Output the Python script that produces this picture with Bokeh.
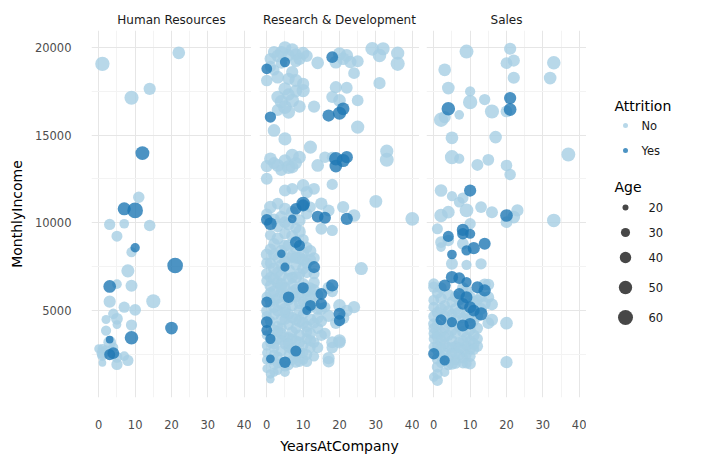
import math

from bokeh.core.properties import value
from bokeh.embed import file_html
from bokeh.layouts import column, row
from bokeh.models import ColumnDataSource, FixedTicker, Range1d, Spacer
from bokeh.plotting import figure
from bokeh.resources import INLINE

# Points: (YearsAtCompany, MonthlyIncome, Age)
hr_no = [
    (1, 19050, 48), (22, 19680, 40), (14, 17630, 38), (9, 17120, 47), (11, 11460, 35),
    (3, 9910, 34), (7, 9950, 28), (14, 9850, 35), (5, 9240, 33), (9, 8330, 30),
    (8, 7270, 42), (5, 6510, 28), (9, 6420, 37), (3, 5520, 38), (7, 5200, 34),
    (10, 5050, 36), (15, 5540, 47), (4, 4820, 31), (2, 4500, 26), (5, 4540, 36),
    (5, 4210, 25), (9, 4180, 34), (2, 3870, 30), (3, 3210, 40), (1, 2830, 28),
    (1, 2580, 36), (7, 2410, 28), (8, 2170, 34), (5, 1940, 34), (1, 2030, 22),
    (5, 2350, 33), (2, 2740, 30), (0, 2830, 26), (1, 2450, 31), (4, 2900, 29),
]
hr_yes = [
    (12, 13970, 46), (7, 10800, 42), (10, 10710, 55), (10, 8580, 27), (21, 7570, 55),
    (3, 6380, 40), (20, 4010, 40), (9, 3460, 44), (3, 3360, 22), (4, 2580, 36),
    (3, 2500, 33),
]
rd_no = [
    (5, 19980, 40), (2, 19720, 38), (7, 19850, 42), (10, 19660, 40), (6, 19530, 37),
    (9, 19340, 39), (1, 19340, 36), (0, 18100, 35), (3, 18290, 40), (7, 18580, 38),
    (8, 18100, 41), (14, 19110, 40), (20, 19620, 42), (22, 19530, 40), (19, 19150, 41),
    (23, 19150, 39), (25, 19200, 37), (24, 18520, 36), (29, 19910, 45), (32, 19910, 42),
    (31, 19530, 44), (36, 19660, 43), (36, 19050, 47), (31, 17950, 38), (21, 19340, 40),
    (19, 17720, 38), (22, 17690, 36), (20, 16970, 40), (18, 17160, 37), (25, 16970, 36),
    (5, 17630, 42), (3, 17160, 40), (7, 16970, 44), (9, 16620, 39), (10, 17530, 43),
    (10, 17910, 38), (5, 16590, 45), (13, 16620, 38), (3, 16430, 37), (2, 15260, 40),
    (5, 14780, 42), (25, 15450, 43), (4, 19100, 35), (8, 19600, 37), (2, 18700, 33),
    (6, 17300, 39), (1, 18900, 34), (4, 19700, 41), (8, 19200, 36), (6, 18200, 38),
    (4, 16900, 43), (8, 17500, 40), (6, 16300, 41), (11, 19500, 37), (3, 19500, 39),
    (12, 14310, 42), (1, 13650, 40), (0, 13230, 38), (3, 13270, 41), (5, 13550, 39),
    (7, 13840, 43), (9, 13740, 40), (6, 13170, 45), (7, 13170, 39), (0, 12510, 36),
    (14, 13270, 40), (16, 13740, 35), (18, 13740, 33), (33, 14080, 42), (33, 13590, 46),
    (18, 12190, 34), (5, 11840, 37), (7, 11940, 35), (10, 12130, 40), (13, 11940, 36),
    (11, 11750, 38), (30, 11220, 41), (2, 13400, 37), (4, 13000, 36), (8, 13400, 38),
    (1, 10900, 40), (3, 11090, 36), (5, 10800, 38), (15, 11090, 39), (17, 10710, 37),
    (21, 10900, 38), (24, 10420, 40), (40, 10230, 45), (15, 9660, 36), (18, 9570, 34),
    (4, 10330, 39), (5, 10040, 37), (9, 10140, 38), (11, 10520, 35), (0, 10500, 34),
    (2, 10200, 36), (7, 10600, 40), (12, 10900, 33), (3, 9800, 35), (6, 9900, 37),
    (8, 9700, 33),
    (1, 9300, 33), (3, 9100, 38), (5, 9400, 35), (7, 9250, 37), (9, 9500, 40),
    (10, 9050, 34), (2, 8800, 36), (6, 8700, 39), (8, 8500, 35), (4, 8400, 38),
    (11, 8600, 34), (0, 8200, 37), (3, 8000, 33), (7, 8100, 36), (9, 8000, 39),
    (12, 7900, 35), (1, 7700, 34), (2, 7400, 38), (5, 7800, 36), (6, 7300, 40),
    (8, 7600, 33), (10, 7400, 37), (0, 7100, 35), (4, 7000, 39), (7, 6900, 34),
    (9, 7100, 36), (11, 7200, 38), (13, 7100, 33), (26, 7400, 42), (1, 8500, 35),
    (5, 8700, 37), (10, 8300, 36), (3, 7200, 34), (8, 6900, 38),
    (0, 7700, 34), (2, 8200, 36), (4, 7600, 35), (6, 8000, 37), (8, 8000, 34),
    (10, 7900, 36), (11, 7700, 35), (12, 8400, 37), (1, 6900, 33), (13, 8000, 35),
    (0, 6700, 33), (1, 6400, 36), (3, 6600, 38), (5, 6300, 34), (6, 6800, 37),
    (8, 6200, 35), (10, 6500, 39), (12, 6300, 33), (2, 6100, 36), (4, 6000, 34),
    (7, 6050, 38), (9, 6000, 35), (11, 6100, 37), (13, 6200, 34), (14, 5900, 36),
    (17, 6300, 38), (18, 6100, 35), (2, 6800, 35), (4, 6500, 37), (7, 6500, 33),
    (0, 5800, 31), (1, 5500, 34), (2, 5200, 36), (3, 5700, 33), (4, 5400, 35),
    (5, 5100, 38), (6, 5600, 32), (7, 5300, 36), (8, 5800, 34), (9, 5000, 37),
    (10, 5500, 33), (11, 5200, 35), (12, 5700, 38), (13, 5400, 34), (14, 5100, 36),
    (16, 5200, 33), (20, 5300, 40), (22, 5000, 37), (24, 5200, 38), (5, 5800, 35),
    (0, 5000, 34), (1, 6000, 36), (2, 5600, 33), (3, 5000, 35), (4, 6300, 37),
    (6, 4800, 34), (7, 5800, 36), (9, 5400, 33), (11, 5800, 34), (12, 5200, 36),
    (13, 6600, 35), (15, 5100, 37),
    (0, 4700, 30), (1, 4400, 33), (2, 4800, 35), (3, 4100, 32), (4, 4500, 36),
    (5, 4900, 34), (6, 4200, 31), (7, 4600, 35), (8, 4000, 33), (9, 4400, 37),
    (10, 4800, 32), (11, 4100, 34), (12, 4500, 36), (13, 4300, 33), (15, 4400, 35),
    (17, 4700, 38), (19, 4300, 36), (14, 4000, 34), (21, 4600, 39), (4, 4000, 33),
    (5, 4500, 32), (8, 4500, 35), (10, 4300, 37), (14, 4600, 36),
    (0, 3600, 29), (1, 3200, 32), (2, 3900, 34), (3, 3400, 31), (4, 3700, 35),
    (5, 3100, 33), (6, 3500, 30), (7, 3800, 34), (8, 3300, 32), (9, 3600, 36),
    (10, 3000, 31), (11, 3400, 33), (12, 3700, 35), (13, 3200, 32), (18, 3200, 37),
    (20, 3300, 40), (15, 3600, 34), (2, 3100, 30), (6, 2900, 31),
    (1, 3600, 31), (3, 3800, 33), (5, 3500, 30), (7, 3400, 32), (9, 3200, 34),
    (11, 3800, 33), (0, 3000, 29), (4, 3300, 31), (6, 3100, 33), (12, 3300, 34),
    (16, 3700, 35), (14, 2900, 34),
    (0, 2600, 27), (1, 2200, 30), (2, 2900, 32), (3, 2400, 29), (4, 2700, 33),
    (5, 2100, 31), (6, 2500, 28), (7, 2800, 34), (8, 2300, 30), (9, 2600, 32),
    (10, 2200, 29), (11, 2500, 33), (12, 2900, 31), (13, 2400, 30), (17, 2100, 36),
    (17, 2300, 38), (18, 2900, 35), (20, 3200, 38), (2, 2500, 30), (8, 2700, 32),
    (10, 2600, 30), (0, 2200, 28), (3, 2000, 29), (7, 2200, 30), (9, 2100, 31),
    (11, 2100, 32),
    (0, 1700, 25), (1, 1400, 27), (1, 1100, 24), (2, 1900, 28), (3, 1600, 26),
    (4, 2000, 29), (6, 1900, 30), (8, 2050, 31), (5, 1800, 27), (2, 1500, 26),
    (5, 1500, 28),
]
rd_yes = [
    (5, 19150, 30), (0, 18770, 32), (18, 19430, 36), (21, 16490, 40), (20, 16240, 42),
    (17, 16110, 38), (1, 16020, 34), (19, 13650, 44), (22, 13740, 38), (19, 13230, 40),
    (21, 13550, 42), (8, 10800, 35), (10, 11090, 45), (10, 10990, 38), (14, 10360, 36),
    (16, 10290, 37), (22, 10230, 38), (0, 10170, 35), (1, 9950, 40), (7, 10230, 25),
    (8, 8900, 36), (9, 8710, 33), (13, 7480, 37), (5, 7480, 26), (6, 5770, 35),
    (10, 6300, 34), (18, 6440, 38), (15, 5960, 36), (15, 5390, 34), (20, 4820, 37),
    (20, 4440, 34), (0, 5490, 33), (0, 4350, 36), (0, 3880, 32), (1, 3400, 30),
    (8, 2700, 33), (5, 2070, 35), (1, 2260, 25), (12, 5300, 33), (11, 5010, 26),
    (4, 8240, 24),
]
sales_no = [
    (9, 19750, 46), (21, 19910, 38), (20, 19090, 36), (22, 19240, 38), (33, 19110, 44),
    (3, 18710, 40), (22, 18260, 38), (32, 18240, 40), (4, 17670, 40), (10, 17480, 30),
    (14, 17020, 34), (10, 16870, 48), (7, 16150, 28), (16, 16340, 47), (20, 16340, 36),
    (2, 15870, 48), (3, 16020, 38), (5, 14840, 40), (17, 14880, 40), (5, 13740, 47),
    (7, 13650, 30), (12, 13300, 37), (15, 13590, 36), (20, 13270, 35), (21, 12750, 35),
    (37, 13890, 46), (2, 11840, 40), (5, 11520, 30), (7, 11180, 32), (8, 11410, 34),
    (9, 10710, 45), (13, 10900, 36), (16, 10610, 37), (2, 10420, 44), (4, 10610, 40),
    (22, 10330, 40), (23, 10710, 38), (20, 10040, 36), (33, 10140, 44), (10, 9950, 34),
    (1, 9660, 33), (2, 8900, 36), (2, 8620, 28), (4, 9000, 35), (8, 8810, 36),
    (5, 7670, 37), (9, 7610, 30), (13, 7670, 34), (14, 6490, 37), (15, 6490, 36),
    (0, 6530, 33), (0, 6340, 34), (15, 5770, 36), (16, 5360, 37), (16, 4480, 38),
    (15, 4290, 36), (20, 4290, 40), (0, 4670, 33), (0, 4250, 34), (1, 3690, 33),
    (0, 2930, 31), (1, 2260, 35), (1, 1790, 34), (0, 1220, 28), (1, 1030, 33),
    (5, 1980, 38), (10, 1980, 35), (20, 2070, 38), (12, 2970, 34), (10, 2830, 36),
    (1, 6000, 33), (2, 5700, 35), (3, 5300, 32), (4, 5900, 36), (5, 5500, 34),
    (6, 5100, 37), (7, 5600, 33), (8, 6300, 35), (9, 6100, 38), (10, 5800, 34),
    (11, 5500, 36), (12, 5600, 33), (13, 5800, 35), (14, 5400, 37), (0, 5200, 32),
    (1, 4900, 34), (2, 5100, 36), (3, 4700, 33), (4, 4300, 35), (5, 4800, 32),
    (6, 4500, 34), (7, 4900, 37), (8, 4600, 33), (9, 4800, 36), (10, 4600, 34),
    (11, 4400, 32), (12, 4700, 35), (0, 4000, 31), (1, 4200, 33), (2, 3800, 35),
    (3, 4000, 32), (4, 3600, 34), (5, 3900, 36), (6, 3700, 31), (7, 4100, 33),
    (8, 3800, 35), (9, 3500, 32), (10, 3900, 34), (11, 3600, 36), (12, 3400, 33),
    (0, 3400, 30), (1, 3000, 32), (2, 3300, 34), (3, 3100, 31), (4, 2900, 33),
    (5, 3300, 35), (6, 3000, 30), (7, 3200, 32), (8, 2800, 34), (9, 3000, 31),
    (10, 3300, 33), (11, 3100, 35), (1, 2700, 30), (2, 2400, 32), (3, 2600, 29),
    (4, 2300, 33), (5, 2600, 31), (6, 2200, 30), (7, 2500, 34), (8, 2300, 32),
    (9, 2500, 30), (10, 2400, 33), (2, 2000, 28), (4, 1900, 30), (6, 2000, 32),
    (8, 2000, 29), (3, 1500, 27),
    (0, 3700, 31), (1, 3500, 33), (2, 2900, 30), (3, 3500, 32), (5, 2900, 31),
    (6, 2600, 33), (7, 2900, 32), (8, 3300, 31), (9, 2000, 30), (11, 2800, 33),
    (0, 5600, 32), (2, 6300, 34), (4, 5000, 33), (6, 5800, 35), (12, 4000, 34),
    (13, 5100, 36), (1, 1400, 30),
]
sales_yes = [
    (21, 17100, 38), (21, 16450, 40), (4, 16490, 44), (10, 11840, 38), (20, 10420, 40),
    (8, 9600, 38), (8, 9380, 35), (10, 9380, 30), (4, 9230, 33), (11, 8560, 38),
    (14, 8810, 37), (9, 8430, 30), (5, 8200, 28), (5, 6910, 38), (7, 6850, 36),
    (9, 6630, 30), (12, 6340, 37), (14, 6150, 38), (3, 6440, 37), (9, 5770, 37),
    (7, 5960, 35), (8, 5390, 36), (10, 5200, 37), (13, 4820, 42), (11, 5010, 36),
    (8, 4160, 37), (10, 4260, 35), (2, 4480, 33), (5, 4350, 30), (0, 2550, 34),
    (3, 2170, 30),
]

departments = ["Human Resources", "Research & Development", "Sales"]
attrition_levels = ["No", "Yes"]
legend_ages = [20, 30, 40, 50, 60]

x_ticks = [0, 10, 20, 30, 40]
x_minor = [5, 15, 25, 35]
y_ticks = [5000, 10000, 15000, 20000]
y_minor = [2500, 7500, 12500, 17500]

COLOURS = {"No": "#a6cee3", "Yes": "#1f78b4"}
FONT = "DejaVu Sans"
FRAME_W, FRAME_H = 160, 367
FRAME_TOP = 30  # page pixel where the panel frames start


def point_size(age):
    # marker area grows linearly with age
    return math.sqrt(49 + 5.6 * (age - 20))


def key_size(age):
    return math.sqrt(36 + 4.73 * (age - 20))


def make_panel(title, groups, border_left, first=False, x_title=None):
    p = figure(frame_width=FRAME_W, frame_height=FRAME_H, title=title,
               x_range=Range1d(-2, 42), y_range=Range1d(59, 20949),
               toolbar_location=None, output_backend="svg",
               min_border_left=border_left, min_border_right=0,
               min_border_top=0, min_border_bottom=0)
    p.outline_line_color = None
    p.title.align = "center"
    p.title.text_font = FONT
    p.title.text_font_size = "12px"
    p.title.text_font_style = "normal"
    p.title.text_color = "#1a1a1a"
    p.title.standoff = 8

    p.xaxis.ticker = FixedTicker(ticks=x_ticks, minor_ticks=x_minor)
    p.yaxis.ticker = FixedTicker(ticks=y_ticks, minor_ticks=y_minor)
    p.xgrid.ticker = FixedTicker(ticks=x_ticks, minor_ticks=x_minor)
    p.ygrid.ticker = FixedTicker(ticks=y_ticks, minor_ticks=y_minor)
    p.grid.grid_line_color = "#e6e6e6"
    p.grid.minor_grid_line_color = "#f3f3f3"

    for ax in (p.xaxis, p.yaxis):
        ax.axis_line_color = None
        ax.major_tick_line_color = None
        ax.minor_tick_line_color = None
        ax.major_tick_out = 0
        ax.major_tick_in = 0
        ax.minor_tick_out = 0
        ax.minor_tick_in = 0
        ax.major_label_text_font = FONT
        ax.major_label_text_font_size = "11.5px"
        ax.major_label_text_color = "#4d4d4d"
        ax.axis_label_text_font = FONT
        ax.axis_label_text_font_size = "14px"
        ax.axis_label_text_font_style = "normal"
        ax.axis_label_text_color = "black"
    p.xaxis.major_label_standoff = 22
    p.yaxis.major_label_standoff = 20

    if first:
        p.yaxis.axis_label = "MonthlyIncome"
        p.yaxis.axis_label_standoff = 7
    else:
        p.yaxis.visible = False
    if x_title:
        p.xaxis.axis_label = x_title
        p.xaxis.axis_label_standoff = 6

    for level, points in zip(attrition_levels, groups):
        src = ColumnDataSource(dict(
            years=[pt[0] for pt in points],
            income=[pt[1] for pt in points],
            size=[point_size(pt[2]) for pt in points],
        ))
        p.scatter("years", "income", size="size", source=src,
                  fill_color=COLOURS[level], fill_alpha=0.8, line_color=None)
    return p


p_hr = make_panel(departments[0], [hr_no, hr_yes], 82, first=True)
p_rd = make_panel(departments[1], [rd_no, rd_yes], 8, x_title="YearsAtCompany")
p_sales = make_panel(departments[2], [sales_no, sales_yes], 7)

# Legend canvas shares the panels' frame rows; its ranges are in page pixels
leg = figure(frame_width=108, frame_height=FRAME_H, x_range=Range1d(585, 693),
             y_range=Range1d(FRAME_TOP + FRAME_H, FRAME_TOP),
             toolbar_location=None, output_backend="svg", min_border=0,
             x_axis_location=None, y_axis_location=None)
leg.grid.visible = False
leg.outline_line_color = None

leg.text(x=[613, 613], y=[105, 186], text=["Attrition", "Age"], text_font=value(FONT),
         text_font_size="14px", text_baseline="middle", text_color="black")

attr_y = [125 + 25 * i for i in range(len(attrition_levels))]
leg.scatter(x=[624] * len(attr_y), y=attr_y, size=5,
            fill_color=[COLOURS[a] for a in attrition_levels], fill_alpha=0.8, line_color=None)
leg.text(x=[640] * len(attr_y), y=attr_y, text=attrition_levels, text_font=value(FONT),
         text_font_size="11.5px", text_baseline="middle", text_color="#1a1a1a")

age_y = [207, 232, 257, 287, 317]
leg.scatter(x=[624] * len(legend_ages), y=age_y, size=[key_size(a) for a in legend_ages],
            fill_color="#333333", fill_alpha=0.9, line_color=None)
leg.text(x=[647] * len(legend_ages), y=age_y, text=[str(a) for a in legend_ages],
         text_font=value(FONT), text_font_size="11.5px", text_baseline="middle",
         text_color="#1a1a1a")

layout = column(Spacer(height=6), row(Spacer(width=5), p_hr, p_rd, p_sales, leg))
open("out.html", "w").write(file_html(layout, INLINE))
